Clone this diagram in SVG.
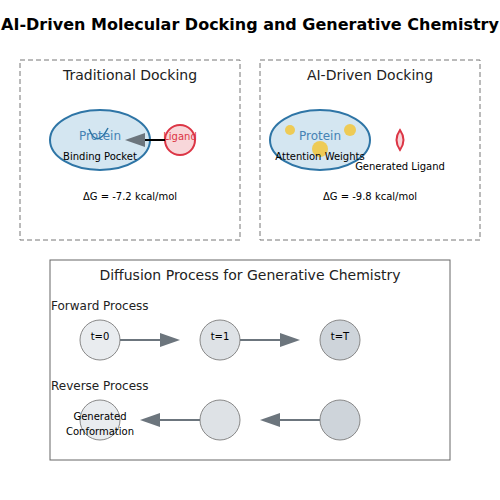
<svg xmlns="http://www.w3.org/2000/svg" width="500" height="500" viewBox="0 0 500 500">
<defs>
<marker id="arr" markerWidth="10" markerHeight="7" refX="0" refY="3.5" orient="auto">
<polygon points="0 0, 10 3.5, 0 7" fill="#6c757d"/>
</marker>
<style>
text{font-family:"DejaVu Sans",sans-serif;}
.box{fill:none;stroke:#777;stroke-width:1;stroke-dasharray:5,3;}
.sub{font-size:14px;text-anchor:middle;fill:#222;}
.lab{font-size:10px;text-anchor:middle;fill:#000;}
.prot{fill:#d4e6f1;stroke:#2e75a6;stroke-width:2;}
.ptxt{font-size:12px;text-anchor:middle;fill:#4682b4;}
.att{fill:#f4c430;opacity:0.8;}
.st{stroke:#888;stroke-width:1;}
.flow{stroke:#6c757d;stroke-width:2;marker-end:url(#arr);}
</style>
</defs>
<rect width="500" height="500" fill="#fff"/>
<text x="250" y="30" text-anchor="middle" font-size="16" font-weight="bold">AI-Driven Molecular Docking and Generative Chemistry</text>

<g id="traditional">
<rect class="box" x="20" y="60" width="220" height="180"/>
<text class="sub" x="130" y="80">Traditional Docking</text>
<ellipse class="prot" cx="100" cy="140" rx="50" ry="30"/>
<text class="ptxt" x="100" y="140">Protein</text>
<path d="M89,129 Q97,149 108,128" fill="none" stroke="#2e75a6" stroke-width="1.5"/>
<text class="lab" x="100" y="160">Binding Pocket</text>
<text class="lab" x="130" y="200">ΔG = -7.2 kcal/mol</text>
</g>
<g id="ligand">
<circle cx="180" cy="140" r="15" fill="#f8d7da" stroke="#dc3545" stroke-width="2"/>
<text x="180" y="140" font-size="10" text-anchor="middle" fill="#dc3545">Ligand</text>
</g>

<g id="ai-driven">
<rect class="box" x="260" y="60" width="220" height="180"/>
<text class="sub" x="370" y="80">AI-Driven Docking</text>
<ellipse class="prot" cx="320" cy="140" rx="50" ry="30"/>
<circle class="att" cx="290" cy="130" r="5"/>
<circle class="att" cx="350" cy="130" r="6"/>
<circle class="att" cx="320" cy="149" r="8"/>
<text class="ptxt" x="320" y="140">Protein</text>
<text class="lab" x="320" y="160">Attention Weights</text>
</g>
<g id="generated-ligand">
<path d="M400,130 Q407,140 400,150 Q393,140 400,130 Z" fill="#f8d7da" stroke="#dc3545" stroke-width="2"/>
<text class="lab" x="400" y="170">Generated Ligand</text>
</g>
<text class="lab" x="370" y="200">ΔG = -9.8 kcal/mol</text>

<g id="diffusion">
<rect x="50" y="260" width="400" height="200" fill="none" stroke="#666" stroke-width="1"/>
<text class="sub" x="250" y="280">Diffusion Process for Generative Chemistry</text>
<text x="51" y="310" font-size="12" fill="#222">Forward Process</text>
<text x="51" y="390" font-size="12" fill="#222">Reverse Process</text>
</g>
<g id="f0"><circle class="st" cx="100" cy="340" r="20" fill="#e9ecef"/><text class="lab" x="100" y="340">t=0</text></g>
<g id="f1"><circle class="st" cx="220" cy="340" r="20" fill="#dee2e6"/><text class="lab" x="220" y="340">t=1</text></g>
<g id="fT"><circle class="st" cx="340" cy="340" r="20" fill="#ced4da"/><text class="lab" x="340" y="340">t=T</text></g>
<g id="r0"><circle class="st" cx="100" cy="420" r="20" fill="#e9ecef"/><text class="lab" x="100" y="420">Generated</text><text class="lab" x="100" y="435">Conformation</text></g>
<g id="r1"><circle class="st" cx="220" cy="420" r="20" fill="#dee2e6"/></g>
<g id="rT"><circle class="st" cx="340" cy="420" r="20" fill="#ced4da"/></g>

<g id="connectors">
<line x1="165" y1="140" x2="145" y2="140" stroke="#000" stroke-width="2" marker-end="url(#arr)"/>
<line class="flow" x1="120" y1="340" x2="160" y2="340"/>
<line class="flow" x1="240" y1="340" x2="280" y2="340"/>
<line class="flow" x1="320" y1="420" x2="280" y2="420"/>
<line class="flow" x1="200" y1="420" x2="160" y2="420"/>
</g>
</svg>
